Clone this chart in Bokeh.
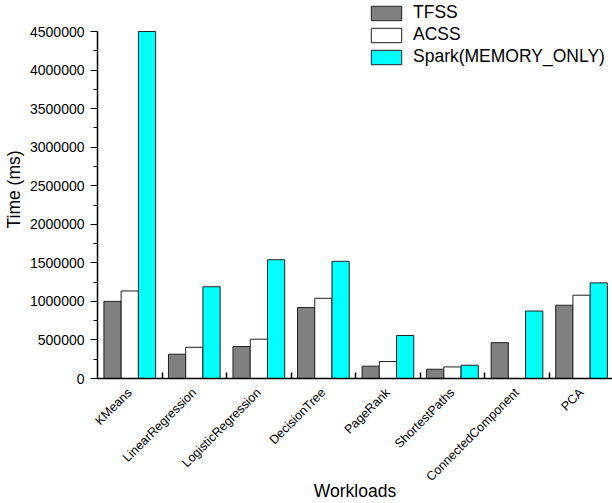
from math import pi
from bokeh.plotting import figure
from bokeh.models import (ColumnDataSource, FixedTicker, BasicTickFormatter,
                          Legend, LegendItem, Range1d)
from bokeh.transform import dodge
from bokeh.embed import file_html
from bokeh.resources import INLINE

categories = ["KMeans", "LinearRegression", "LogisticRegression", "DecisionTree",
              "PageRank", "ShortestPaths", "ConnectedComponent", "PCA"]
tfss = [1000000, 315000, 415000, 920000, 160000, 120000, 465000, 950000]
acss = [1135000, 405000, 510000, 1040000, 220000, 150000, 0, 1080000]
spark = [4500000, 1190000, 1540000, 1520000, 558000, 172000, 875000, 1240000]
series_names = ["TFSS", "ACSS", "Spark(MEMORY_ONLY)"]
y_ticks = [0, 500000, 1000000, 1500000, 2000000, 2500000, 3000000, 3500000, 4000000, 4500000]
x_title = "Workloads"
y_title = "Time (ms)"

FONT = "Liberation Sans"

W, H = 612, 503
FRAME_H = 378
AXIS_TOP_GAP = 31
y_max = y_ticks[-1]
y_end = y_max * FRAME_H / (FRAME_H - AXIS_TOP_GAP)

centers = [i + 0.5 for i in range(len(categories))]
src = ColumnDataSource(dict(x=centers, tfss=tfss, acss=acss, spark=spark))

p = figure(width=W, height=H, output_backend="svg", toolbar_location=None,
           x_range=Range1d(0, 7.98), y_range=Range1d(0, y_end),
           min_border_left=96, min_border_right=0, min_border_top=0,
           min_border_bottom=H - FRAME_H)
p.outline_line_color = None
p.xgrid.visible = False
p.ygrid.visible = False
p.background_fill_color = "white"
p.border_fill_color = "white"

bw = 0.267
r1 = p.vbar(x=dodge("x", -bw, range=p.x_range), top="tfss", width=bw, source=src,
            fill_color="#808080", line_color="#202020", line_width=1)
r2 = p.vbar(x=dodge("x", 0, range=p.x_range), top="acss", width=bw, source=src,
            fill_color="white", line_color="#202020", line_width=1)
r3 = p.vbar(x=dodge("x", bw, range=p.x_range), top="spark", width=bw, source=src,
            fill_color="#00FFFF", line_color="#202020", line_width=1)

# x axis
xa = p.xaxis[0]
xa.ticker = FixedTicker(ticks=centers, minor_ticks=list(range(1, len(categories))))
xa.major_label_overrides = {c: name for c, name in zip(centers, categories)}
xa.major_label_orientation = pi / 4
xa.major_tick_line_color = None
xa.major_tick_in = 0
xa.major_tick_out = 0
xa.minor_tick_in = 6
xa.minor_tick_out = 0
xa.minor_tick_line_color = "black"
xa.minor_tick_line_width = 1.5
xa.axis_line_color = "black"
xa.axis_line_width = 1.5
xa.major_label_text_font = FONT
xa.major_label_text_font_size = "12.5px"
xa.major_label_text_color = "black"
xa.major_label_standoff = 12
xa.axis_label = x_title
xa.axis_label_text_font = FONT
xa.axis_label_text_font_size = "17.5px"
xa.axis_label_text_font_style = "normal"
xa.axis_label_text_color = "black"
xa.axis_label_text_line_height = 1.0
xa.axis_label_standoff = -11

# y axis
ya = p.yaxis[0]
minor = [v + 250000 for v in y_ticks[:-1]]
ya.ticker = FixedTicker(ticks=y_ticks, minor_ticks=minor)
ya.bounds = (0, y_max)
ya.formatter = BasicTickFormatter(use_scientific=False)
ya.major_tick_in = 0
ya.major_tick_out = 7
ya.minor_tick_in = 0
ya.minor_tick_out = 4
ya.major_tick_line_color = "black"
ya.minor_tick_line_color = "black"
ya.axis_line_color = "black"
ya.axis_line_width = 1.5
ya.major_label_text_font = FONT
ya.major_label_text_font_size = "14px"
ya.major_label_text_color = "black"
ya.major_label_standoff = 6
ya.axis_label = y_title
ya.axis_label_text_font = FONT
ya.axis_label_text_font_size = "17.5px"
ya.axis_label_text_font_style = "normal"
ya.axis_label_text_color = "black"
ya.axis_label_standoff = 3

legend = Legend(items=[LegendItem(label=series_names[0], renderers=[r1]),
                       LegendItem(label=series_names[1], renderers=[r2]),
                       LegendItem(label=series_names[2], renderers=[r3])],
                location=(270, FRAME_H - 67), padding=0, margin=0,
                border_line_color=None, background_fill_alpha=0,
                glyph_width=38, glyph_height=18, label_height=18, spacing=1,
                label_standoff=8, label_text_font=FONT,
                label_text_font_size="17.5px", label_text_color="black")
p.add_layout(legend, "center")

open("out.html", "w").write(file_html(p, INLINE))
